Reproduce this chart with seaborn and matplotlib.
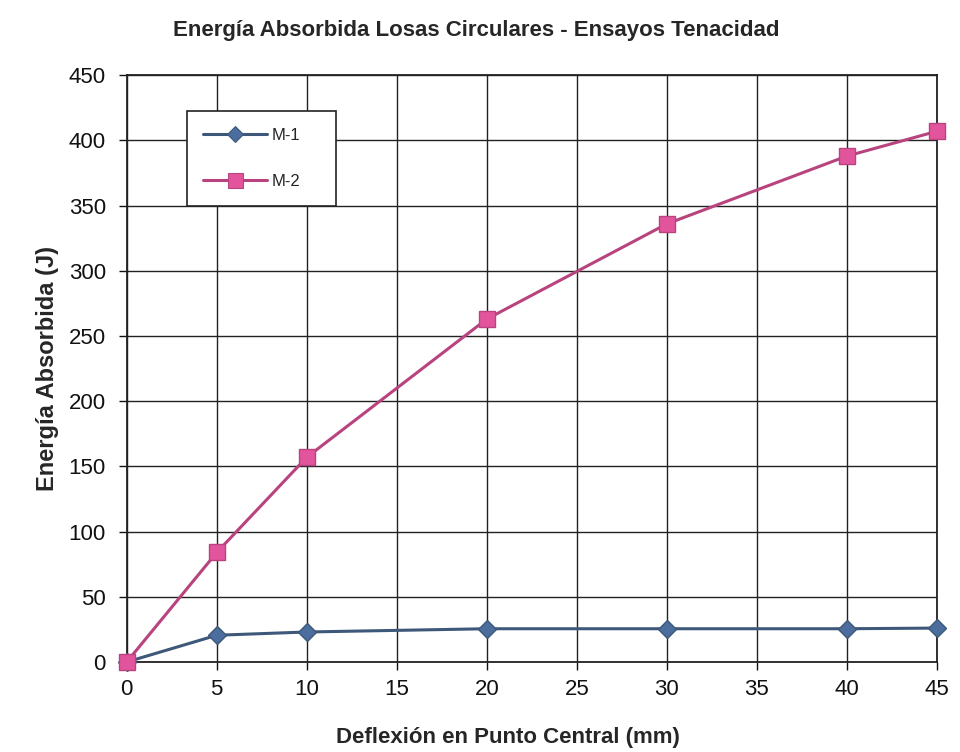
import matplotlib
matplotlib.use("Agg")
import matplotlib.pyplot as plt
import seaborn as sns
import pandas as pd

deflexion = [0, 5, 10, 20, 30, 40, 45]
m1 = [0, 20.5, 23, 25.5, 25.5, 25.5, 26]
m2 = [0, 84, 157, 263, 336, 388, 407]
series_names = ["M-1", "M-2"]

df = pd.DataFrame({
    "x": deflexion * 2,
    "y": m1 + m2,
    "serie": [series_names[0]] * len(deflexion) + [series_names[1]] * len(deflexion),
})

sns.set_theme(style="white")
plt.rcParams["font.family"] = ["Liberation Sans", "DejaVu Sans"]

fig = plt.figure(figsize=(9.6, 7.52), dpi=100)
ax = fig.add_axes([0.132, 0.1197, 0.844, 0.7803])

line_colors = {"M-1": "#3d5878", "M-2": "#b8437e"}
sns.lineplot(data=df, x="x", y="y", hue="serie", style="serie",
             markers={"M-1": "D", "M-2": "s"}, dashes=False,
             palette=line_colors, linewidth=2.2, ax=ax, legend=True)

face = {"M-1": "#4b6e9e", "M-2": "#e2559c"}
msize = {"M-1": 9, "M-2": 12}
for ln, name in zip(ax.get_lines()[:2], series_names):
    ln.set_markerfacecolor(face[name])
    ln.set_markeredgecolor(line_colors[name])
    ln.set_markersize(msize[name])
    ln.set_markeredgewidth(1.0)
    ln.set_clip_on(False)
    ln.set_zorder(5)

ax.set_xlim(0, 45)
ax.set_ylim(0, 450)
ax.set_xticks(range(0, 46, 5))
ax.set_yticks(range(0, 451, 50))
ax.grid(True, color="#222222", linewidth=1.0)
ax.set_axisbelow(True)
for s in ax.spines.values():
    s.set_color("#222222")
    s.set_linewidth(1.3)
ax.tick_params(axis="both", labelsize=16, colors="#111111", length=6, direction="out",
               left=True, bottom=True, width=1)
ax.tick_params(axis="y", pad=9)
ax.tick_params(axis="x", pad=6)

ax.set_xlabel("Deflexión en Punto Central (mm)", fontsize=16, fontweight="bold")
ax.xaxis.set_label_coords(0.470, -0.129)
ax.xaxis.label.set_va("center")
ax.set_ylabel("Energía Absorbida (J)", fontsize=17, fontweight="bold", labelpad=7)
fig.text(0.4964, 0.959, "Energía Absorbida Losas Circulares - Ensayos Tenacidad",
         ha="center", va="center", fontsize=16, fontweight="bold")

handles, labels = ax.get_legend_handles_labels()
for h, name in zip(handles, labels):
    h.set_markerfacecolor(face[name])
    h.set_markeredgecolor(line_colors[name])
    h.set_markersize(msize[name] * 0.9)
leg = ax.legend(handles, labels, loc="upper left",
                bbox_to_anchor=(0.074, 0.939 - 0.165, 0.184, 0.165), mode="expand",
                frameon=True, fancybox=False, edgecolor="#222222", framealpha=1,
                fontsize=12, labelspacing=1.9, borderpad=1.0, handlelength=3.8,
                handletextpad=0.3, borderaxespad=0)
leg.get_frame().set_linewidth(1.2)

fig.savefig("out.png", dpi=100, facecolor="white")
